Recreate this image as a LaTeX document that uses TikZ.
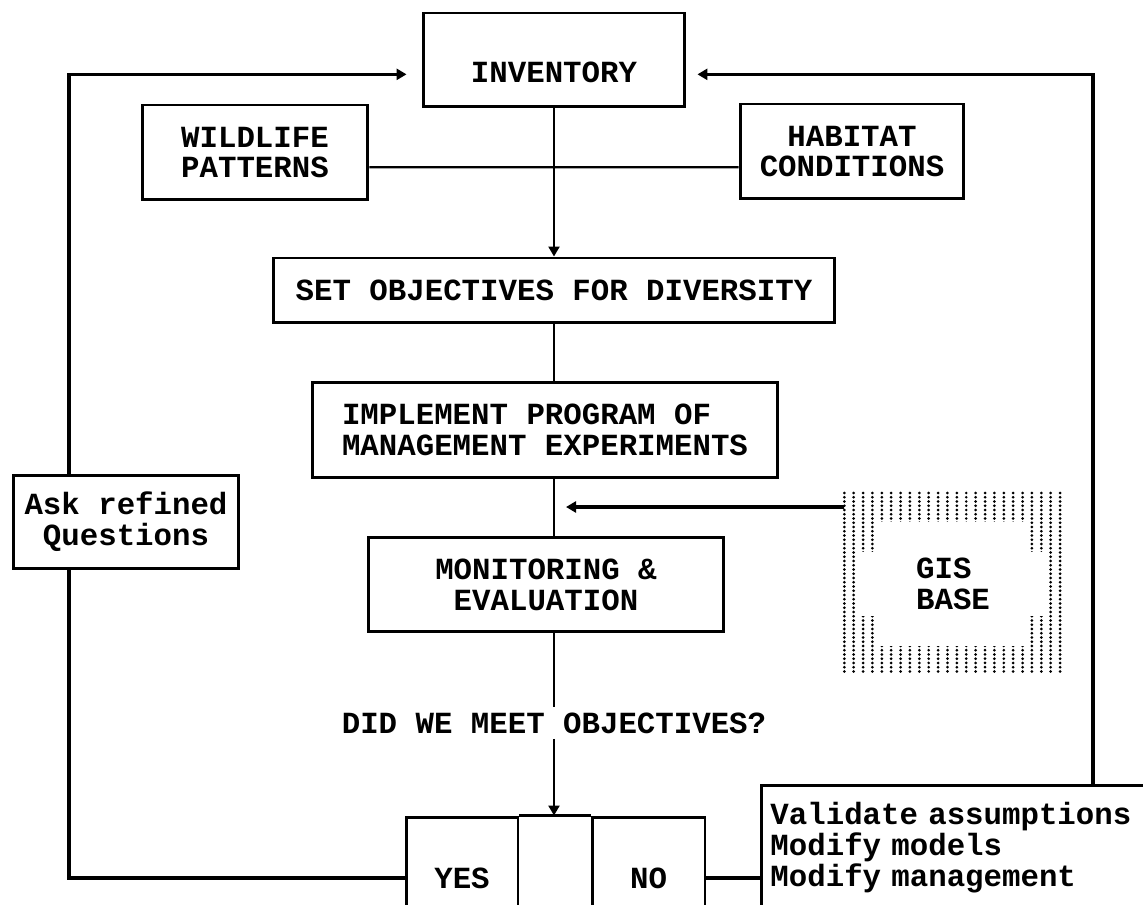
\documentclass[tikz,border=0pt]{standalone}
\usepackage{fontspec}
\setmainfont{Liberation Mono}
\usetikzlibrary{arrows.meta,calc}

\begin{document}
\begin{tikzpicture}[x=0.02cm, y=-0.02cm, >={Triangle[length=0.2cm,width=0.22cm]},
    every node/.style={font=\bfseries\fontsize{17.5}{17.6}\selectfont},
    box/.style={draw, line width=1.7pt, align=center},
    wire/.style={line width=1.3pt},
    backline/.style={line width=1.8pt}]
    \useasboundingbox (0,0) rectangle (1143,905);
    \clip (0,0) rectangle (1143,905);
    % dotted frame of the GIS base
    \foreach \i in {0,...,23}
        \draw[line width=1.7pt, line cap=round, dash pattern=on 0pt off 0.085cm]
            ({844.3+9.38*\i},493) -- ({844.3+9.38*\i},675);
    \fill[white] (877,522) rectangle (1027,646);
    \fill[white] (857,552) rectangle (1046,616);

    \node (In) at (554,60) [box, minimum width=5.24cm, minimum height=1.88cm,
        text height=0.92cm, text depth=0pt] {INVENTORY};
    \node (Wi) at (255,152.5) [box, minimum width=4.52cm, minimum height=1.9cm] {WILDLIFE\\PATTERNS};
    \node (Ha) at (852,151.5) [box, minimum width=4.48cm, minimum height=1.9cm] {HABITAT\\CONDITIONS};
    \node (Se) at (554,290.5) [box, minimum width=11.24cm, minimum height=1.3cm]
        {SET OBJECTIVES FOR DIVERSITY} edge [<-, wire] (In);
    \node (Im) at (545,430) [box, align=left, minimum width=9.32cm, minimum height=1.92cm]
        {IMPLEMENT PROGRAM OF\\MANAGEMENT EXPERIMENTS};
    \node (As) at (126,522) [box, minimum width=4.52cm, minimum height=1.88cm] {Ask refined\\Questions};
    \node (Mo) at (546,584.5) [box, minimum width=7.12cm, minimum height=1.9cm] {MONITORING \&\\EVALUATION};
    \node (Gi) at (953,583.5) [align=left, minimum width=4.36cm, minimum height=3.66cm] {GIS\\BASE};
    \node (Qu) at (554,723) [inner sep=0.1cm] {DID WE MEET OBJECTIVES?};
    \node (Ye) at (462,878) [box, minimum width=2.24cm, minimum height=2.44cm] {YES};
    \node (No) at (648.5,878) [box, minimum width=2.26cm, minimum height=2.44cm] {NO};
    \node (Va) at (760,784) [box, anchor=north west, align=left, text width=9cm,
        inner xsep=0.18cm, minimum height=2.5cm]
        {Validate assumptions\\Modify models\\Modify management};

    \coordinate (Le) at (69,74);
    \coordinate (Ri) at (1093,74);
    \coordinate (Gx) at (566,507);

    \draw[wire] ($(Wi.north east)!0.65!(Wi.south east)$) -- ($(Ha.north west)!0.66!(Ha.south west)$);
    \draw[wire] (Se) -- (Se.south |- Im.north);
    \draw[wire] (Se.south |- Im.south) -- (Se.south |- Mo.north);
    \draw[->, backline] (Gi.west |- Gx) -- (Gx);
    \draw[wire] (Se.south |- Mo.south) -- (Qu);
    \draw[->, wire] (Qu) -- (Qu |- Ye.north);
    \draw[backline] (Ye.north east) -- (No.north west);
    \draw[backline] (Ye.west) -| (Le |- As.south);
    \draw[->, backline, shorten >=0.3cm] (Le |- As.north) |- ([yshift=0.08cm]In.mid west);
    \draw[backline] (No.east) -- (No.east -| Va.west);
    \draw[->, backline, shorten >=0.22cm] (Ri |- Va.north) |- ([yshift=0.08cm]In.mid east);
\end{tikzpicture}
\end{document}
